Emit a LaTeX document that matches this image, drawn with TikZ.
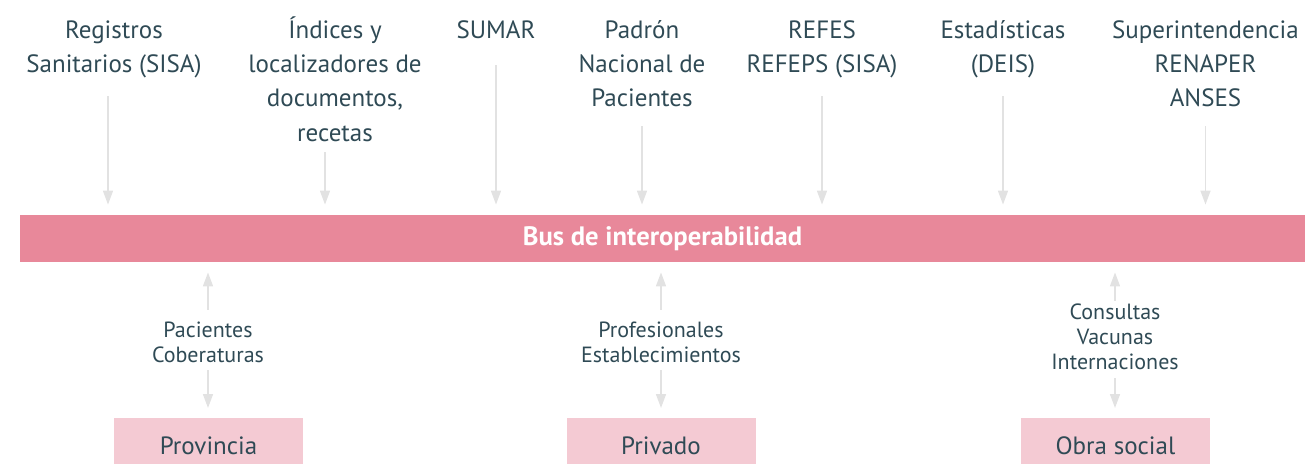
\documentclass[tikz,border=0pt]{standalone}
\usepackage{fontspec}
\setmainfont{PT Sans}
\usetikzlibrary{arrows.meta}
\definecolor{txt}{HTML}{2F4A55}
\definecolor{busc}{HTML}{E8889A}
\definecolor{boxc}{HTML}{F4CAD3}
\definecolor{arrc}{HTML}{E2E2E2}
\tikzset{
  toplab/.style={align=center,text=txt,font=\fontsize{12.5}{17.2}\selectfont,anchor=north,inner sep=0pt},
  midlab/.style={align=center,text=txt,font=\fontsize{11}{12.6}\selectfont,inner sep=0pt},
  endbox/.style={fill=boxc,text=txt,font=\fontsize{12.5}{15}\selectfont,minimum width=94.5pt,minimum height=27pt,inner sep=0pt,anchor=north},
  arr/.style={draw=arrc,line width=0.8pt,-{Triangle[width=5pt,length=7pt]},shorten >=5pt},
}
\newcommand{\ph}{\vphantom{Í}}
\begin{document}
\begin{tikzpicture}[x=0.5pt,y=-0.5pt]
\useasboundingbox (0,0) rectangle (1307,463);
% bus
\node[fill=busc,minimum width=642.5pt,minimum height=23.5pt,inner sep=0pt,text=white,font=\bfseries\fontsize{13.3}{15}\selectfont] (bus) at (662.5,238.5) {Bus de interoperabilidad};
% top labels
\node[toplab] (t1) at (114,16) {\ph Registros\\Sanitarios (SISA)};
\node[toplab] (t2) at (335,16) {Índices y\\localizadores de\\documentos,\\recetas};
\node[toplab] (t3) at (496,16) {\ph SUMAR};
\node[toplab] (t4) at (642,16) {\ph Padrón\\Nacional de\\Pacientes};
\node[toplab] (t5) at (822,16) {\ph REFES\\REFEPS (SISA)};
\node[toplab] (t6) at (1003,16) {\ph Estadísticas\\(DEIS)};
\node[toplab] (t7) at (1205.5,16) {\ph Superintendencia\\RENAPER\\ANSES};
\coordinate (a1) at (108,96);
\coordinate (a2) at (325,152);
\draw[arr] (a1) -- (a1 |- bus.north);
\draw[arr] (a2) -- (a2 |- bus.north);
\draw[arr] (t3.south |- 0,65) -- (t3.south |- bus.north);
\draw[arr] (t4.south |- 0,126) -- (t4.south |- bus.north);
\draw[arr] (t5.south |- 0,96) -- (t5.south |- bus.north);
\draw[arr] (t6.south |- 0,96) -- (t6.south |- bus.north);
\draw[arr] (t7.south |- 0,126) -- (t7.south |- bus.north);
% bottom boxes
\node[endbox] (b1) at (208.5,418) {Provincia};
\node[endbox] (b2) at (661,418) {Privado};
\node[endbox] (b3) at (1115.5,418) {Obra social};
% mid labels
\node[midlab] (m1) at (208,342) {Pacientes\\Coberaturas};
\node[midlab] (m2) at (661,342) {Profesionales\\Establecimientos};
\node[midlab] (m3) at (1115,337) {Consultas\\Vacunas\\Internaciones};
\draw[arr] (m1.north |- 0,310) -- (m1.north |- bus.south);
\draw[arr] (m1.south |- 0,370) -- (m1.south |- b1.north);
\draw[arr] (m2.north |- 0,310) -- (m2.north |- bus.south);
\draw[arr] (m2.south |- 0,370) -- (m2.south |- b2.north);
\draw[arr] (m3.north |- 0,301) -- (m3.north |- bus.south);
\draw[arr] (m3.south |- 0,378) -- (m3.south |- b3.north);
\end{tikzpicture}
\end{document}
